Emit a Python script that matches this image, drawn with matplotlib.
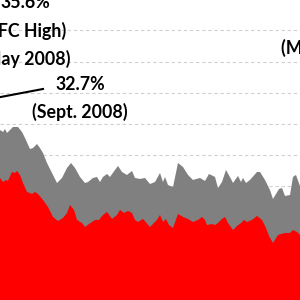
import matplotlib.pyplot as plt

plt.rcParams['font.family'] = ['Lato', 'DejaVu Sans']

# total share (gray envelope)
total_week = [0, 3, 5, 7, 10, 13, 18, 22, 25, 30, 33, 37, 40, 43, 47, 52, 57,
              62, 67, 71, 75, 80, 85, 88, 93, 97, 100, 103, 107, 110, 115, 118,
              122, 127, 132, 135, 140, 145, 150, 155, 160, 163, 165, 168, 173,
              178, 183, 188, 193, 200, 205, 209, 215, 218, 222, 226, 231, 233,
              238, 241, 243, 246, 250, 257, 260, 265, 270, 273, 279, 282, 285,
              290, 293, 296, 300]
total_pct = [29.04, 28.72, 29.2, 28.56, 29.04, 29.52, 29.52, 28.72, 27.76,
             25.99, 26.15, 26.79, 26.15, 25.35, 23.75, 22.15, 20.54, 21.35,
             22.95, 23.75, 22.95, 21.51, 20.54, 20.70, 21.35, 21.51, 20.70,
             21.51, 21.99, 21.51, 22.63, 23.27, 22.31, 21.83, 22.47, 21.35,
             21.19, 21.35, 20.38, 20.70, 22.15, 20.70, 21.51, 20.22, 19.90,
             23.75, 23.11, 21.83, 21.03, 21.35, 20.87, 21.99, 21.51, 19.74,
             20.70, 22.63, 21.19, 20.54, 21.67, 20.70, 21.35, 20.54, 21.03,
             22.31, 22.31, 21.03, 19.42, 17.98, 19.58, 19.74, 18.46, 18.62,
             21.51, 21.83, 20.06]

# red share (lower layer)
red_week = [0, 3, 6, 8, 12, 15, 17, 20, 23, 27, 32, 35, 38, 43, 48, 53, 58,
            63, 67, 70, 74, 77, 82, 85, 89, 95, 99, 103, 107, 112, 117, 120,
            124, 128, 132, 135, 138, 143, 150, 157, 160, 163, 166, 169, 173,
            178, 183, 188, 193, 198, 202, 205, 207, 212, 215, 218, 222, 225,
            228, 233, 237, 241, 244, 247, 252, 257, 262, 266, 269, 273, 278,
            285, 290, 293, 297, 300]
red_pct = [21.35, 20.70, 21.03, 20.87, 22.31, 22.15, 22.47, 21.83, 20.54,
           19.10, 18.78, 19.10, 18.78, 17.82, 16.70, 15.10, 14.45, 14.94,
           15.74, 17.02, 16.22, 14.62, 14.13, 13.49, 13.97, 14.62, 14.62,
           15.42, 15.90, 14.78, 15.42, 16.22, 15.74, 16.06, 15.74, 14.62,
           14.29, 14.78, 13.49, 14.62, 15.42, 14.29, 14.78, 13.81, 13.33,
           15.58, 15.10, 14.78, 14.29, 14.62, 15.10, 14.62, 13.81, 13.97,
           13.81, 14.13, 14.78, 15.10, 14.13, 13.01, 13.65, 14.13, 14.62,
           14.29, 14.62, 15.26, 14.62, 13.33, 12.05, 10.93, 12.21, 12.53,
           12.53, 13.01, 12.69, 12.21]

grid_levels = [5, 10, 15, 20, 25, 30, 35, 40, 45]

fig = plt.figure(figsize=(3, 3), dpi=100)
ax = fig.add_axes([0, 0, 1, 1])
ax.set_xlim(0, 300)
ax.set_ylim(1.79, 49.87)
ax.axis('off')

for g in grid_levels:
    ax.axhline(g, color='#d0d0d0', lw=0.8, ls=(0, (3, 2.5)), zorder=0)

ax.fill_between(total_week, 0, total_pct, color='#808080', lw=0, zorder=1)
ax.fill_between(red_week, 0, red_pct, color='#ff0000', lw=0, zorder=2)

# leader line towards the Sept. 2008 point (off to the left)
ax.plot([-10, 43], [34.0, 35.61], color='black', lw=1.5, clip_on=False,
        zorder=3)

kw = dict(ha='center', va='center', fontsize=12.8, fontweight='bold',
          linespacing=1.68, zorder=4)
ax.text(25, 44.9, '35.6%\n(FFC High)\n(May 2008)', **kw)
ax.text(80, 34.1, '32.7%\n(Sept. 2008)', **kw)
ax.text(327, 44.4, '24.5%\n(Mar. 2009)', **kw)

fig.savefig('out.png', dpi=100)
